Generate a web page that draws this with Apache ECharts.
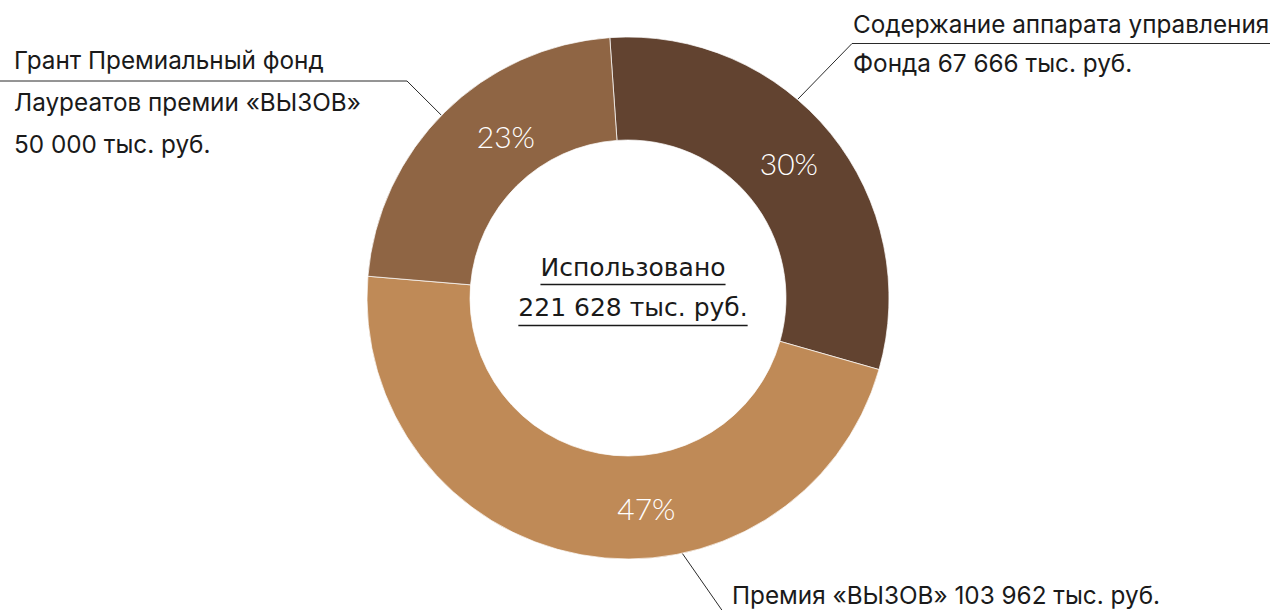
<!DOCTYPE html>
<html lang="ru">
<head>
<meta charset="utf-8">
<title>Использовано 221 628 тыс. руб.</title>
<script src="https://cdn.jsdelivr.net/npm/echarts@6/dist/echarts.min.js"></script>
<style>
  html, body { margin: 0; padding: 0; background: #fff; }
  #chart { width: 1276px; height: 610px; }
</style>
</head>
<body>
<div id="chart"></div>
<script>
// данные (тыс. руб.)
const categories = ['Содержание аппарата управления Фонда', 'Премия «ВЫЗОВ»', 'Грант Премиальный фонд Лауреатов премии «ВЫЗОВ»']
const values = [67666, 103962, 50000]
const percentLabels = ['30%', '47%', '23%']
const outerLabels = [
  'Содержание аппарата управления\nФонда 67 666 тыс. руб.',
  'Премия «ВЫЗОВ» 103 962 тыс. руб.',
  'Грант Премиальный фонд\nЛауреатов премии «ВЫЗОВ»\n50 000 тыс. руб.'
]
const totalLabel = ['Использовано', '221 628 тыс. руб.']

// оформление
const colors = ['#624330', '#bf8a57', '#8f6544']
const cx = 628, cy = 298, rIn = 158, rOut = 261
const labelFont = 'Inter'
const roundFont = 'Lato'

// где стоят проценты (угол по часовой от 12 часов, радиус)
const percentPlace = [{ angle: 50, r: 210 }, { angle: 175, r: 211 }, { angle: 323, r: 203 }]
// подписи снаружи и выноски
const calloutPlace = [
  { angle: 40.5, x: 853, y: 24, lineHeight: 39, elbowX: 852, endX: 1270 },
  { angle: 168, x: 732, y: 595, lineHeight: 42, elbowX: 726, endX: 1170 },
  { angle: 314.4, x: 14, y: 60, lineHeight: 42, elbowX: 407, endX: 0 }
]

const polar = (angle, r) => {
  const a = angle * Math.PI / 180
  return [cx + r * Math.sin(a), cy - r * Math.cos(a)]
}

// ширина текста для подчёркивания в центре
const measure = (text, font) => {
  const ctx = document.createElement('canvas').getContext('2d')
  ctx.font = font
  return ctx.measureText(text).width
}

const centerFont = '25px "DejaVu Sans"'
const centerX = 633
const centerRows = [
  { y: 267, line: 284.5 },
  { y: 307, line: 325.5 }
]
const centerGraphics = []
totalLabel.forEach((t, i) => {
  const w = measure(t, centerFont)
  centerGraphics.push({
    type: 'text', x: centerX, y: centerRows[i].y,
    style: { text: t, font: centerFont, fill: '#1a1a1a', textAlign: 'center', textVerticalAlign: 'middle' }
  })
  centerGraphics.push({
    type: 'line',
    shape: { x1: centerX - w / 2, y1: centerRows[i].line, x2: centerX + w / 2, y2: centerRows[i].line },
    style: { stroke: '#1a1a1a', lineWidth: 1.5 }
  })
})

const chart = echarts.init(document.getElementById('chart'), null, { renderer: 'svg' })
chart.setOption({
  animation: false,
  color: colors,
  graphic: { elements: centerGraphics },
  series: [
    {
      type: 'pie',
      center: [cx, cy],
      radius: [rIn, rOut],
      startAngle: 94,
      avoidLabelOverlap: false,
      emphasis: { disabled: true },
      itemStyle: { borderColor: 'rgba(255,255,255,0.7)', borderWidth: 1 },
      label: {
        show: true,
        position: 'inside',
        formatter: p => percentLabels[p.dataIndex],
        color: '#fff',
        fontFamily: roundFont,
        fontWeight: 300,
        fontSize: 30
      },
      labelLine: { show: false },
      labelLayout: p => {
        const pt = polar(percentPlace[p.dataIndex].angle, percentPlace[p.dataIndex].r)
        return { x: pt[0], y: pt[1], align: 'center', verticalAlign: 'middle' }
      },
      data: values.map((v, i) => ({ name: categories[i], value: v }))
    },
    {
      type: 'pie',
      center: [cx, cy],
      radius: [rIn, rOut],
      startAngle: 94,
      silent: true,
      avoidLabelOverlap: false,
      emphasis: { disabled: true },
      itemStyle: { color: 'rgba(0,0,0,0)' },
      label: {
        show: true,
        position: 'outside',
        formatter: p => outerLabels[p.dataIndex],
        color: '#1a1a1a',
        fontFamily: labelFont,
        fontSize: 24.3,
        lineHeight: 42
      },
      labelLine: { show: true, lineStyle: { color: '#2a2a2a', width: 1 } },
      labelLayout: p => {
        const c = calloutPlace[p.dataIndex]
        const under = c.y + c.lineHeight / 2
        return {
          x: c.x,
          y: c.y - c.lineHeight / 2,
          align: 'left',
          verticalAlign: 'top',
          labelLinePoints: [polar(c.angle, rOut), [c.elbowX, under], [c.endX, under]]
        }
      },
      data: values.map((v, i) => ({
        name: categories[i],
        value: v,
        label: { lineHeight: calloutPlace[i].lineHeight }
      }))
    }
  ]
})
</script>
</body>
</html>
